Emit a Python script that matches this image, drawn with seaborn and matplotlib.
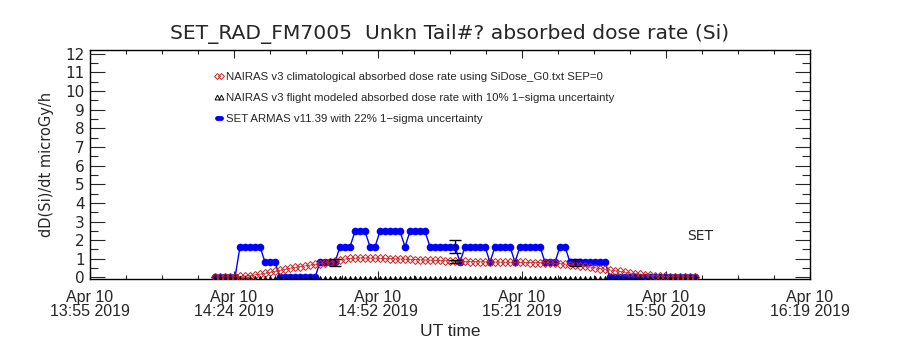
import matplotlib
matplotlib.use("Agg")
import matplotlib.pyplot as plt
import seaborn as sns
import numpy as np
import pandas as pd
from matplotlib.lines import Line2D

# ---------------- data ----------------
axis_start = pd.Timestamp("2019-04-10 13:55:12")
axis_end = pd.Timestamp("2019-04-10 16:19:12")
data_start = pd.Timestamp("2019-04-10 14:20:12")   # first sample, 1-min cadence

xtick_labels = ["Apr 10\n13:55 2019", "Apr 10\n14:24 2019", "Apr 10\n14:52 2019",
                "Apr 10\n15:21 2019", "Apr 10\n15:50 2019", "Apr 10\n16:19 2019"]
ytick_labels = ["0", "1", "2", "3", "4", "5", "6", "7", "8", "9", "10", "11", "12"]

# SET ARMAS v11.39 (blue)
set_armas = [
    0.00, 0.00, 0.00, 0.00, 0.00,
    1.65, 1.65, 1.65, 1.65, 1.65,
    0.82, 0.82, 0.82,
    0.00, 0.00, 0.00, 0.00, 0.00, 0.00, 0.00, 0.00,
    0.82, 0.82, 0.82, 0.82,
    1.65, 1.65, 1.65,
    2.47, 2.47, 2.47,
    1.65, 1.65,
    2.47, 2.47, 2.47, 2.47, 2.47,
    1.65,
    2.47, 2.47, 2.47, 2.47,
    1.65, 1.65, 1.65, 1.65, 1.65, 1.65,
    0.82,
    1.65, 1.65, 1.65, 1.65, 1.65,
    0.82,
    1.65, 1.65, 1.65, 1.65,
    0.82,
    1.65, 1.65, 1.65, 1.65, 1.65,
    0.82, 0.82, 0.82,
    1.65, 1.65,
    0.82, 0.82, 0.82, 0.82, 0.82, 0.82, 0.82, 0.82,
    0.00, 0.00, 0.00, 0.00, 0.00, 0.00, 0.00, 0.00, 0.00,
    0.00, 0.00, 0.00, 0.00, 0.00, 0.00, 0.00, 0.00, 0.00,
]

# NAIRAS v3 climatological (red diamonds)
nairas_clim = [
    0.02, 0.02, 0.03, 0.03, 0.04,
    0.06, 0.08, 0.10, 0.14, 0.18, 0.22, 0.27, 0.32, 0.38, 0.43,
    0.49, 0.54, 0.58, 0.62, 0.66, 0.70, 0.74, 0.78, 0.82, 0.86,
    0.95, 0.99, 1.02, 1.04, 1.05, 1.05, 1.04, 1.04, 1.03, 1.02,
    1.01, 1.00, 0.99, 0.98, 0.97, 0.96, 0.95, 0.94, 0.93, 0.92,
    0.91, 0.90, 0.89, 0.88, 0.87, 0.86, 0.85, 0.85, 0.84, 0.84,
    0.83, 0.83, 0.82, 0.82, 0.82, 0.81, 0.81, 0.81, 0.80, 0.80,
    0.80, 0.79, 0.78, 0.76, 0.74, 0.72, 0.69, 0.66, 0.62, 0.59,
    0.56, 0.52, 0.48, 0.44, 0.40, 0.36, 0.32, 0.28, 0.24, 0.20,
    0.17, 0.14, 0.12, 0.10, 0.08, 0.06, 0.05, 0.04, 0.03, 0.02,
    0.02, 0.01,
]

# NAIRAS v3 flight modeled (black triangles)
nairas_flight = [
    0.0, 0.0, 0.0, 0.0, 0.0, 0.0, 0.0, 0.0, 0.0, 0.0,
    0.0, 0.0, 0.0, 0.0, 0.0, 0.0, 0.0, 0.0, 0.0, 0.0,
    0.0, 0.0, 0.0, 0.0, 0.0, 0.0, 0.0, 0.0, 0.0, 0.0,
    0.0, 0.0, 0.0, 0.0, 0.0, 0.0, 0.0, 0.0, 0.0, 0.0,
    0.0, 0.0, 0.0, 0.0, 0.0, 0.0, 0.0, 0.0, 0.0, 0.0,
    0.0, 0.0, 0.0, 0.0, 0.0, 0.0, 0.0, 0.0, 0.0, 0.0,
    0.0, 0.0, 0.0, 0.0, 0.0, 0.0, 0.0, 0.0, 0.0, 0.0,
    0.0, 0.0, 0.0, 0.0, 0.0, 0.0, 0.0, 0.0, 0.0, 0.0,
    0.0, 0.0, 0.0, 0.0, 0.0, 0.0, 0.0, 0.0, 0.0, 0.0,
    0.0, 0.0, 0.0, 0.0, 0.0, 0.0, 0.0,
]

# error bars: sample indices, values, relative 1-sigma
set_err_idx = [24, 48, 72]
set_err_val = [0.82, 1.65, 0.82]
set_err_frac = 0.22
flight_err_idx = [48]
flight_err_val = [0.84]
flight_err_frac = 0.10

legend_labels = [
    "NAIRAS v3 climatological absorbed dose rate using SiDose_G0.txt SEP=0",
    "NAIRAS v3 flight modeled absorbed dose rate with 10% 1\u2212sigma uncertainty",
    "SET ARMAS v11.39 with 22% 1\u2212sigma uncertainty",
]

# ---------------- build frame ----------------
times = pd.date_range(data_start, periods=len(set_armas), freq="1min")
df = pd.DataFrame({"time": times, "set": set_armas,
                   "clim": nairas_clim, "flight": nairas_flight})

BLUE = "#0000ff"
RED = "#cc2222"
LIB = ["Liberation Sans", "DejaVu Sans"]

sns.set_style("ticks")
plt.rcParams["font.family"] = ["DejaVu Sans"]

fig = plt.figure(figsize=(9, 3.5), dpi=100)
ax = fig.add_axes([0.1, 0.203, 0.8, 0.654])

sns.lineplot(data=df, x="time", y="set", ax=ax, color=BLUE, linewidth=1.0,
             marker="o", markersize=5.5, markeredgewidth=0, markerfacecolor=BLUE,
             zorder=2)
sns.lineplot(data=df, x="time", y="clim", ax=ax, color=RED, linewidth=0.5,
             marker="D", markersize=4, markerfacecolor="none",
             markeredgecolor=RED, markeredgewidth=0.7, zorder=3)
sns.scatterplot(data=df, x="time", y="flight", ax=ax, marker="^", s=4,
                color="black", edgecolor="black", linewidth=0.3, zorder=4)

# error bars
et = [times[i] for i in set_err_idx]
ax.errorbar(et, set_err_val, yerr=[v * set_err_frac for v in set_err_val],
            fmt="none", ecolor="black", elinewidth=1.0, capsize=4.5, capthick=1.0,
            zorder=5)
ft = [times[i] for i in flight_err_idx]
ax.errorbar(ft, flight_err_val, yerr=[v * flight_err_frac for v in flight_err_val],
            fmt="none", ecolor="black", elinewidth=1.0, capsize=4.5, capthick=1.0,
            zorder=5)

# axes
ax.set_xlim(axis_start, axis_end)
ax.set_ylim(-0.08, 12.2)
major_x = [axis_start + pd.Timedelta(minutes=28.8 * k) for k in range(6)]
minor_x = [axis_start + pd.Timedelta(minutes=7.2 * k) for k in range(21)]
ax.set_xticks(major_x)
ax.set_xticks(minor_x, minor=True)
ax.set_xticklabels(xtick_labels, family=LIB, fontsize=11.5, linespacing=0.95)
ax.set_yticks(range(len(ytick_labels)))
ax.set_yticks([k + 0.5 for k in range(12)], minor=True)
ax.set_yticklabels(ytick_labels, fontsize=11)

ax.tick_params(axis="x", which="major", direction="in", length=6, width=0.8,
               top=True, bottom=True, pad=8)
ax.tick_params(axis="x", which="minor", direction="in", length=3, width=0.8,
               top=True, bottom=True)
ax.tick_params(axis="y", which="major", direction="in", length=11, width=0.8,
               left=True, right=True, pad=4)
ax.tick_params(axis="y", which="minor", direction="in", length=6, width=0.8,
               left=True, right=True)
for s in ax.spines.values():
    s.set_visible(True)
    s.set_linewidth(1.0)
    s.set_color("black")

ax.set_xlabel("UT time", family=LIB, fontsize=12.5, labelpad=3)
ax.set_ylabel("dD(Si)/dt microGy/h", fontsize=10.5, labelpad=8)
ax.set_title("SET_RAD_FM7005  Unkn Tail#? absorbed dose rate (Si)",
             fontsize=14.6, pad=8)

ax.text(data_start + pd.Timedelta(minutes=97), 2.2, "SET", fontsize=10,
        ha="center", va="center")

handles = [
    Line2D([0], [0], marker="D", markersize=3, markerfacecolor="none",
           markeredgecolor=RED, markeredgewidth=0.7, linestyle="none"),
    Line2D([0], [0], marker="^", markersize=3.5, markerfacecolor="none",
           markeredgecolor="black", markeredgewidth=0.7, linestyle="none"),
    Line2D([0], [0], color=BLUE, linewidth=3.5),
]
leg = ax.legend(handles, legend_labels, loc="upper left",
                bbox_to_anchor=(0.172, 0.905), frameon=False, numpoints=2,
                handlelength=0.9, handletextpad=0.15, labelspacing=0.97,
                borderaxespad=0, borderpad=0,
                prop={"family": LIB, "size": 8.2})

fig.savefig("out.png", dpi=100, facecolor="white")
